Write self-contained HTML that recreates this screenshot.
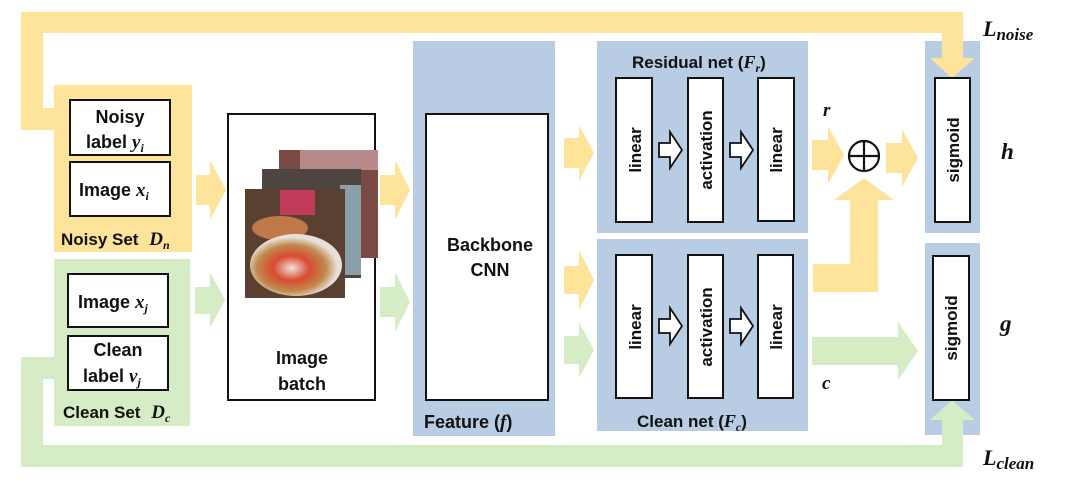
<!DOCTYPE html>
<html><head><meta charset="utf-8"><style>
html,body{margin:0;padding:0;background:#fff;}
svg{display:block;}
text{font-family:"Liberation Sans",sans-serif;font-weight:bold;fill:#111;}
.m{font-family:"Liberation Serif",serif;font-style:italic;font-weight:bold;}
</style></head><body>
<svg width="1080" height="484" viewBox="0 0 1080 484" xmlns="http://www.w3.org/2000/svg">
<defs>
<radialGradient id="pz" cx="0.45" cy="0.55" r="0.5"><stop offset="0" stop-color="#f0e0d8"/><stop offset="0.4" stop-color="#d84a30"/><stop offset="0.75" stop-color="#c08a4e"/><stop offset="1" stop-color="#e8e0d8"/></radialGradient>
</defs>
<!-- yellow loop -->
<g fill="#fee49b">
<rect x="21" y="12" width="942" height="21"/>
<rect x="21" y="12" width="22" height="118"/>
<rect x="21" y="108" width="34" height="22"/>
<rect x="942" y="12" width="21" height="48"/>
</g>
<!-- green loop -->
<g fill="#d6ecc4">
<rect x="21" y="445" width="942" height="22"/>
<rect x="21" y="357" width="22" height="110"/>
<rect x="21" y="357" width="34" height="22"/>
<rect x="942" y="418" width="21" height="49"/>
</g>
<!-- sets -->
<rect x="54" y="85" width="138" height="167" fill="#fee49b"/>
<rect x="54" y="259" width="136" height="167" fill="#d6ecc4"/>
<g fill="#fff" stroke="#111" stroke-width="2">
<rect x="70" y="100" width="100" height="55"/>
<rect x="70" y="162" width="100" height="54"/>
<rect x="68" y="274" width="100" height="53"/>
<rect x="68" y="336" width="100" height="54"/>
</g>
<text x="120" y="123" font-size="18" text-anchor="middle">Noisy</text>
<text x="86" y="148" font-size="18">label <tspan class="m" font-size="19">y</tspan><tspan class="m" font-size="12" dy="4">i</tspan></text>
<text x="79" y="196" font-size="18">Image <tspan class="m" font-size="19">x</tspan><tspan class="m" font-size="12" dy="4">i</tspan></text>
<text x="78" y="308" font-size="18">Image <tspan class="m" font-size="19">x</tspan><tspan class="m" font-size="12" dy="4">j</tspan></text>
<text x="118" y="356" font-size="18" text-anchor="middle">Clean</text>
<text x="83" y="382" font-size="18">label <tspan class="m" font-size="19">v</tspan><tspan class="m" font-size="12" dy="4">j</tspan></text>
<text x="61" y="245" font-size="17">Noisy Set <tspan class="m" font-size="19" dx="6">D</tspan><tspan class="m" font-size="12" dy="4">n</tspan></text>
<text x="63" y="418" font-size="17">Clean Set <tspan class="m" font-size="19" dx="6">D</tspan><tspan class="m" font-size="12" dy="4">c</tspan></text>
<!-- arrows -->
<g fill="#fee49b">
<polygon points="196,175 210,175 210,160 226,190 210,220 210,205 196,205"/>
<polygon points="380,175 395,175 395,160 410,190 395,220 395,205 380,205"/>
<polygon points="564,138 579,138 579,125 594,153 579,181 579,168 564,168"/>
<polygon points="564,266 579,266 579,250 594,280 579,310 579,294 564,294"/>
<polygon points="812,140 828,140 828,126 844,155 828,184 828,170 812,170"/>
<polygon points="886,143 902,143 902,129 918,158 902,187 902,173 886,173"/>
<polygon points="813,264 850,264 850,200 834,200 864,178 894,200 878,200 878,292 813,292"/>
</g>
<g fill="#d6ecc4">
<polygon points="195,287 210,287 210,272 225,300 210,328 210,314 195,314"/>
<polygon points="380,287 395,287 395,272 410,302 395,332 395,317 380,317"/>
<polygon points="564,336 579,336 579,322 594,350 579,378 579,364 564,364"/>
<polygon points="812,337 898,337 898,322 918,351 898,380 898,365 812,365"/>
</g>
<!-- image batch -->
<rect x="228" y="114" width="147" height="286" fill="#fff" stroke="#111" stroke-width="2"/>
<rect x="279" y="150" width="99" height="108" fill="#7a4a44"/>
<rect x="300" y="150" width="78" height="20" fill="#b88a8c"/>
<rect x="262" y="169" width="99" height="109" fill="#4e4440"/>
<rect x="340" y="185" width="21" height="90" fill="#8aa0a8"/>
<rect x="245" y="189" width="100" height="109" fill="#5a4030"/>
<rect x="280" y="190" width="35" height="25" fill="#c03a5a"/>
<ellipse cx="280" cy="228" rx="28" ry="12" fill="#c07a4a"/>
<ellipse cx="296" cy="265" rx="46" ry="31" fill="url(#pz)"/>
<text x="302" y="364" font-size="18" text-anchor="middle">Image</text>
<text x="302" y="390" font-size="18" text-anchor="middle">batch</text>
<!-- backbone -->
<rect x="413" y="41" width="142" height="395" fill="#b8cce4"/>
<rect x="426" y="114" width="122" height="286" fill="#fff" stroke="#111" stroke-width="2"/>
<text x="490" y="251" font-size="18" text-anchor="middle">Backbone</text>
<text x="490" y="276" font-size="18" text-anchor="middle">CNN</text>
<text x="424" y="428" font-size="18">Feature (<tspan class="m" font-size="19">f</tspan>)</text>
<!-- nets -->
<rect x="597" y="41" width="211" height="192" fill="#b8cce4"/>
<rect x="597" y="239" width="211" height="192" fill="#b8cce4"/>
<text x="632" y="68" font-size="17">Residual net (<tspan class="m" font-size="18">F</tspan><tspan class="m" font-size="12" dy="4">r</tspan><tspan dy="-4">)</tspan></text>
<text x="637" y="427" font-size="17">Clean net (<tspan class="m" font-size="18">F</tspan><tspan class="m" font-size="12" dy="4">c</tspan><tspan dy="-4">)</tspan></text>
<g fill="#fff" stroke="#111" stroke-width="2">
<rect x="616" y="78" width="36" height="144"/>
<rect x="688" y="78" width="35" height="144"/>
<rect x="758" y="78" width="36" height="143"/>
<rect x="616" y="255" width="36" height="143"/>
<rect x="688" y="255" width="35" height="143"/>
<rect x="758" y="255" width="35" height="143"/>
</g>
<g fill="#fff" stroke="#111" stroke-width="1.8">
<polygon points="659,143 670,143 670,132 682,150 670,168 670,157 659,157"/>
<polygon points="730,143 741,143 741,132 753,150 741,168 741,157 730,157"/>
<polygon points="659,319 670,319 670,308 682,326 670,344 670,333 659,333"/>
<polygon points="730,319 741,319 741,308 753,326 741,344 741,333 730,333"/>
</g>
<g font-size="17" text-anchor="middle">
<text transform="translate(641,150) rotate(-90)">linear</text>
<text transform="translate(712,150) rotate(-90)">activation</text>
<text transform="translate(782,150) rotate(-90)">linear</text>
<text transform="translate(641,327) rotate(-90)">linear</text>
<text transform="translate(712,327) rotate(-90)">activation</text>
<text transform="translate(782,327) rotate(-90)">linear</text>
</g>
<!-- sigmoid -->
<rect x="925" y="41" width="55" height="192" fill="#b8cce4"/>
<rect x="925" y="243" width="55" height="192" fill="#b8cce4"/>
<rect x="942" y="41" width="21" height="20" fill="#fee49b"/>
<rect x="942" y="418" width="21" height="17" fill="#d6ecc4"/>
<polygon points="930,58 975,58 952,78" fill="#fee49b"/>
<polygon points="930,420 975,420 952,400" fill="#d6ecc4"/>
<rect x="935" y="78" width="35" height="144" fill="#fff" stroke="#111" stroke-width="2"/>
<rect x="933" y="256" width="36" height="144" fill="#fff" stroke="#111" stroke-width="2"/>
<g font-size="17" text-anchor="middle">
<text transform="translate(959,150) rotate(-90)">sigmoid</text>
<text transform="translate(957,328) rotate(-90)">sigmoid</text>
</g>
<!-- oplus -->
<circle cx="864" cy="156" r="15" fill="#fff" stroke="#111" stroke-width="2.2"/>
<line x1="849" y1="156" x2="879" y2="156" stroke="#111" stroke-width="2.2"/>
<line x1="864" y1="141" x2="864" y2="171" stroke="#111" stroke-width="2.2"/>
<text class="m" x="823" y="116" font-size="19">r</text>
<text class="m" x="822" y="389" font-size="19">c</text>
<text class="m" x="1001" y="159" font-size="23">h</text>
<text class="m" x="1000" y="331" font-size="23">g</text>
<text class="m" x="983" y="36" font-size="22">L<tspan font-size="17" dy="4">noise</tspan></text>
<text class="m" x="983" y="465" font-size="22">L<tspan font-size="17" dy="4">clean</tspan></text>
</svg>
</body></html>
